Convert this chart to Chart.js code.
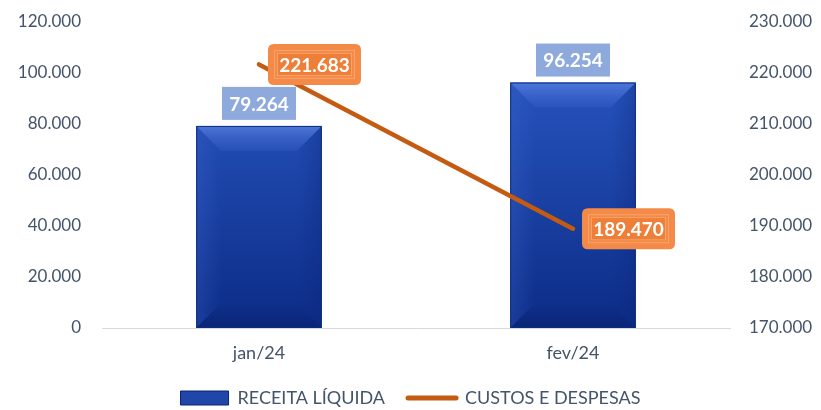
<!DOCTYPE html>
<html>
<head>
<meta charset="utf-8">
<script src="https://cdn.jsdelivr.net/npm/chart.js@4"></script>
<style>
  html, body { margin: 0; padding: 0; background: #fff; }
  #wrap { width: 821px; height: 410px; }
</style>
</head>
<body>
<div id="wrap"><canvas id="chart"></canvas></div>
<script>
const categories = ["jan/24", "fev/24"];
const receita = [79264, 96254];
const custos = [221683, 189470];
const receitaLabel = "RECEITA LÍQUIDA";
const custosLabel = "CUSTOS E DESPESAS";

const FONT = "Lato, 'Open Sans', sans-serif";
const TEXT = "#44546A";

function fmt(v) {
  return v.toLocaleString("de-DE");
}

function barFill(ctx) {
  const chart = ctx.chart;
  const area = chart.chartArea;
  if (!area) return "#1F46A8";
  const el = ctx.element;
  const top = el && el.y != null ? el.y : area.top;
  const g = chart.ctx.createLinearGradient(0, top, 0, area.bottom);
  g.addColorStop(0, "#2D5BC6");
  g.addColorStop(0.45, "#1E47AC");
  g.addColorStop(1, "#0C2C86");
  return g;
}

function roundRect(c, x, y, w, h, r) {
  c.beginPath();
  c.moveTo(x + r, y);
  c.lineTo(x + w - r, y);
  c.quadraticCurveTo(x + w, y, x + w, y + r);
  c.lineTo(x + w, y + h - r);
  c.quadraticCurveTo(x + w, y + h, x + w - r, y + h);
  c.lineTo(x + r, y + h);
  c.quadraticCurveTo(x, y + h, x, y + h - r);
  c.lineTo(x, y + r);
  c.quadraticCurveTo(x, y, x + r, y);
  c.closePath();
}

// soft bevel on the bars, drawn from the bar elements' own geometry
const bevelPlugin = {
  id: "bevel",
  afterDatasetDraw(chart, args) {
    if (args.index !== 0) return;
    const c = chart.ctx;
    c.save();
    args.meta.data.forEach((bar) => {
      const l = bar.x - bar.width / 2, r = bar.x + bar.width / 2;
      const t = bar.y, b = bar.base;
      const d = 25;
      const quad = (pts, g) => {
        c.fillStyle = g;
        c.beginPath();
        c.moveTo(pts[0], pts[1]);
        for (let k = 2; k < pts.length; k += 2) c.lineTo(pts[k], pts[k + 1]);
        c.closePath();
        c.fill();
      };
      let g = c.createLinearGradient(0, t, 0, t + d);
      g.addColorStop(0, "rgba(95,135,230,0.7)");
      g.addColorStop(1, "rgba(70,110,215,0.2)");
      quad([l, t, r, t, r - d, t + d, l + d, t + d], g);

      g = c.createLinearGradient(l, 0, l + d, 0);
      g.addColorStop(0, "rgba(70,110,215,0.25)");
      g.addColorStop(1, "rgba(70,110,215,0)");
      quad([l, t, l + d, t + d, l + d, b - d, l, b], g);

      g = c.createLinearGradient(r, 0, r - d, 0);
      g.addColorStop(0, "rgba(10,35,120,0.3)");
      g.addColorStop(1, "rgba(10,35,120,0)");
      quad([r, t, r - d, t + d, r - d, b - d, r, b], g);

      g = c.createLinearGradient(0, b, 0, b - d);
      g.addColorStop(0, "rgba(5,25,90,0.35)");
      g.addColorStop(1, "rgba(5,25,90,0)");
      quad([l, b, r, b, r - d, b - d, l + d, b - d], g);

      c.strokeStyle = "#0E2C7E";
      c.lineWidth = 1;
      c.strokeRect(l + 0.5, t + 0.5, bar.width - 1, b - t - 1);
    });
    c.restore();
  },
};

const labelPlugin = {
  id: "valueLabels",
  afterDatasetsDraw(chart) {
    const c = chart.ctx;
    c.save();
    c.font = "bold 19px " + FONT;
    c.textAlign = "center";
    c.textBaseline = "middle";

    chart.getDatasetMeta(0).data.forEach((bar, i) => {
      const w = 74, h = 33;
      const x = bar.x - w / 2;
      const y = bar.y - 6 - h;
      c.fillStyle = "#8EA9DB";
      c.fillRect(x, y, w, h);
      c.fillStyle = "#fff";
      c.fillText(fmt(receita[i]), bar.x, y + h / 2 + 1);
    });

    chart.getDatasetMeta(1).data.forEach((pt, i) => {
      const w = 93, h = 41;
      const x = pt.x + 9;
      const y = pt.y - h / 2;
      roundRect(c, x, y, w, h, 6);
      c.fillStyle = "#F48A47";
      c.fill();
      c.strokeStyle = "#F9A36C";
      c.lineWidth = 1;
      c.strokeRect(x + 6.5, y + 6.5, w - 13, h - 13);
      c.strokeRect(x + 9.5, y + 9.5, w - 19, h - 19);
      c.fillStyle = "#EE7F38";
      c.fillRect(x + 10, y + 10, w - 20, h - 20);
      c.fillStyle = "#fff";
      c.fillText(fmt(custos[i]), x + w / 2, y + h / 2 + 1);
    });
    c.restore();
  },
};

function noPad(s) {
  s.paddingTop = 0;
  s.paddingBottom = 0;
}

new Chart(document.getElementById("chart"), {
  type: "bar",
  data: {
    labels: categories,
    datasets: [
      {
        type: "bar",
        label: receitaLabel,
        data: receita,
        yAxisID: "y",
        backgroundColor: barFill,
        borderWidth: 0,
        categoryPercentage: 1,
        barPercentage: 0.4,
        order: 2,
      },
      {
        type: "line",
        label: custosLabel,
        data: custos,
        yAxisID: "y1",
        borderColor: "#C55A11",
        backgroundColor: "#C55A11",
        borderWidth: 4.5,
        borderCapStyle: "round",
        pointRadius: 0,
        tension: 0,
        order: 1,
      },
    ],
  },
  options: {
    responsive: true,
    maintainAspectRatio: false,
    animation: false,
    layout: { padding: { top: 22, left: 0, right: 0, bottom: -7 } },
    plugins: {
      tooltip: { enabled: false },
      legend: {
        position: "bottom",
        labels: {
          color: TEXT,
          font: { family: FONT, size: 18 },
          usePointStyle: true,
          pointStyleWidth: 48,
          boxHeight: 14,
          padding: 23,
          generateLabels() {
            return [
              { text: receitaLabel, fillStyle: "#1F46A8", strokeStyle: "#0A2570", lineWidth: 1, pointStyle: "rect", datasetIndex: 0, fontColor: TEXT },
              { text: custosLabel, fillStyle: "#C55A11", strokeStyle: "#C55A11", lineWidth: 5, lineCap: "round", pointStyle: "line", datasetIndex: 1, fontColor: TEXT },
            ];
          },
        },
      },
    },
    scales: {
      x: {
        grid: { display: false, drawTicks: false },
        border: { display: true, color: "#D9D9D9", width: 1 },
        ticks: { color: TEXT, font: { family: FONT, size: 18 }, padding: 14 },
        afterFit(s) { s.height = 38; },
      },
      y: {
        position: "left",
        min: 0,
        max: 120000,
        grid: { display: false, drawTicks: false },
        border: { display: false },
        ticks: {
          stepSize: 20000,
          color: TEXT,
          font: { family: FONT, size: 17 },
          padding: 21,
          callback: (v) => fmt(v),
        },
        afterFit(s) { s.width = 102; noPad(s); },
      },
      y1: {
        position: "right",
        min: 170000,
        max: 230000,
        grid: { display: false, drawTicks: false },
        border: { display: false },
        ticks: {
          stepSize: 10000,
          color: TEXT,
          font: { family: FONT, size: 17 },
          padding: 19,
          callback: (v) => fmt(v),
        },
        afterFit(s) { s.width = 91; noPad(s); },
      },
    },
  },
  plugins: [bevelPlugin, labelPlugin],
});
</script>
</body>
</html>
